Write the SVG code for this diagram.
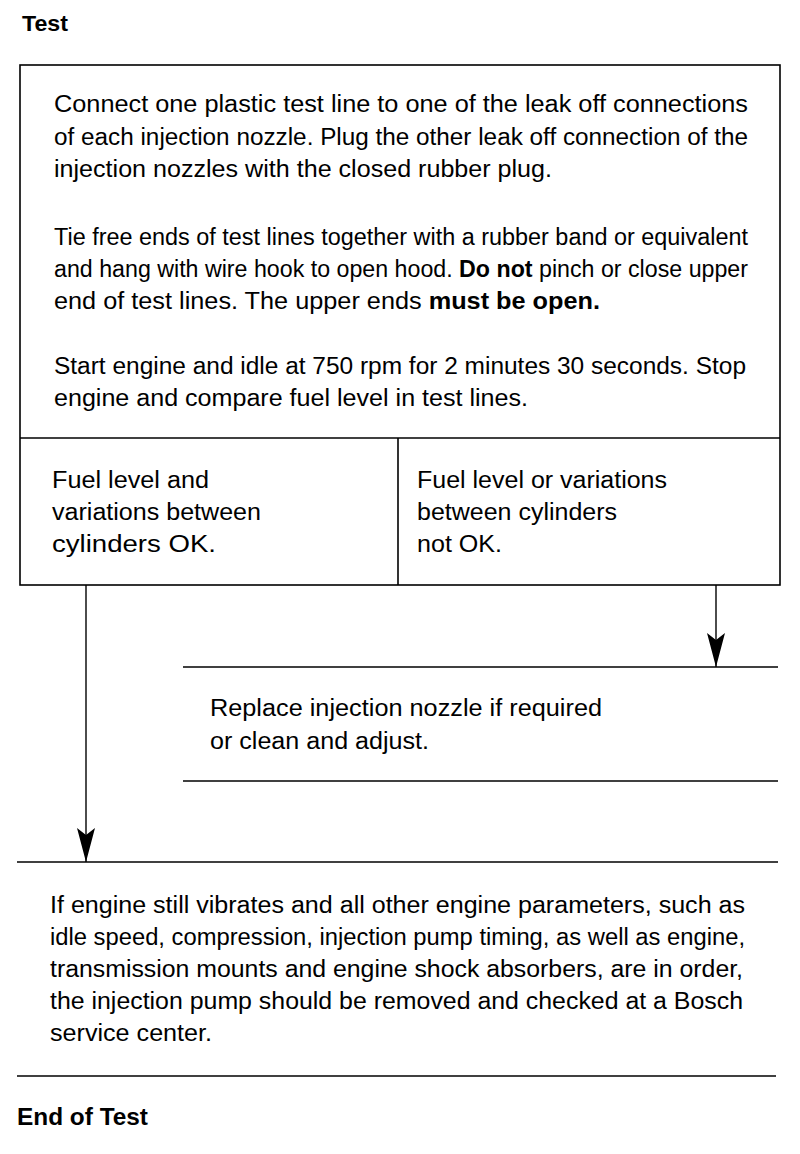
<svg xmlns="http://www.w3.org/2000/svg" width="800" height="1154" viewBox="0 0 800 1154">
<defs>
<style>
.t{font-family:"Liberation Sans",Arial,sans-serif;font-size:23px;fill:#000}
.h{font-family:"Liberation Sans",Arial,sans-serif;font-weight:bold;fill:#000}
.b{font-weight:bold}
.ln{stroke:#000;stroke-width:1.6;fill:none}
.ar{stroke:#000;stroke-width:1.4;fill:none}
</style>
<marker id="ah" viewBox="0 0 34 18" refX="34" refY="9" markerWidth="34" markerHeight="18" markerUnits="userSpaceOnUse" orient="auto">
<path d="M0,0 L7,9 L0,18 L34,9 Z" fill="#000"/>
</marker>
</defs>
<rect width="800" height="1154" fill="#fff"/>
<text class="h" x="22" y="31" font-size="22" textLength="46" lengthAdjust="spacingAndGlyphs">Test</text>

<g id="test-box">
<rect class="ln" x="20" y="65" width="760" height="520"/>
<line class="ln" x1="20" y1="438" x2="780" y2="438"/>
<text class="t" x="54" y="112" textLength="694" lengthAdjust="spacingAndGlyphs">Connect one plastic test line to one of the leak off connections</text>
<text class="t" x="54" y="145" textLength="694" lengthAdjust="spacingAndGlyphs">of each injection nozzle. Plug the other leak off connection of the</text>
<text class="t" x="54" y="177" textLength="498" lengthAdjust="spacingAndGlyphs">injection nozzles with the closed rubber plug.</text>
<text class="t" x="54" y="245" textLength="694" lengthAdjust="spacingAndGlyphs">Tie free ends of test lines together with a rubber band or equivalent</text>
<text class="t" x="54" y="277" textLength="694" lengthAdjust="spacingAndGlyphs">and hang with wire hook to open hood. <tspan class="b">Do not</tspan> pinch or close upper</text>
<text class="t" x="54" y="309" textLength="546" lengthAdjust="spacingAndGlyphs">end of test lines. The upper ends <tspan class="b">must be open.</tspan></text>
<text class="t" x="54" y="374" textLength="692" lengthAdjust="spacingAndGlyphs">Start engine and idle at 750 rpm for 2 minutes 30 seconds. Stop</text>
<text class="t" x="54" y="406" textLength="474" lengthAdjust="spacingAndGlyphs">engine and compare fuel level in test lines.</text>
</g>

<g id="ok-box">
<line class="ln" x1="398" y1="438" x2="398" y2="585"/>
<text class="t" x="52" y="488" textLength="157" lengthAdjust="spacingAndGlyphs">Fuel level and</text>
<text class="t" x="52" y="520" textLength="209" lengthAdjust="spacingAndGlyphs">variations between</text>
<text class="t" x="52" y="552" textLength="164" lengthAdjust="spacingAndGlyphs">cylinders OK.</text>
</g>

<g id="not-ok-box">
<text class="t" x="417" y="488" textLength="250" lengthAdjust="spacingAndGlyphs">Fuel level or variations</text>
<text class="t" x="417" y="520" textLength="200" lengthAdjust="spacingAndGlyphs">between cylinders</text>
<text class="t" x="417" y="552" textLength="85" lengthAdjust="spacingAndGlyphs">not OK.</text>
</g>

<g id="replace">
<line class="ln" x1="183" y1="667" x2="778" y2="667"/>
<line class="ln" x1="183" y1="781" x2="778" y2="781"/>
<text class="t" x="210" y="716" textLength="392" lengthAdjust="spacingAndGlyphs">Replace injection nozzle if required</text>
<text class="t" x="210" y="749" textLength="219" lengthAdjust="spacingAndGlyphs">or clean and adjust.</text>
</g>

<g id="pump">
<line class="ln" x1="17" y1="862" x2="778" y2="862"/>
<line class="ln" x1="17" y1="1076" x2="776" y2="1076"/>
<text class="t" x="50" y="913" textLength="695" lengthAdjust="spacingAndGlyphs">If engine still vibrates and all other engine parameters, such as</text>
<text class="t" x="50" y="945" textLength="695" lengthAdjust="spacingAndGlyphs">idle speed, compression, injection pump timing, as well as engine,</text>
<text class="t" x="50" y="977" textLength="693" lengthAdjust="spacingAndGlyphs">transmission mounts and engine shock absorbers, are in order,</text>
<text class="t" x="50" y="1009" textLength="693" lengthAdjust="spacingAndGlyphs">the injection pump should be removed and checked at a Bosch</text>
<text class="t" x="50" y="1041" textLength="162" lengthAdjust="spacingAndGlyphs">service center.</text>
</g>

<g id="connectors">
<line class="ar" x1="86" y1="585" x2="86" y2="862" marker-end="url(#ah)"/>
<line class="ar" x1="716" y1="585" x2="716" y2="667" marker-end="url(#ah)"/>
</g>

<text class="h" x="17" y="1125" font-size="24" textLength="131" lengthAdjust="spacingAndGlyphs">End of Test</text>
</svg>
